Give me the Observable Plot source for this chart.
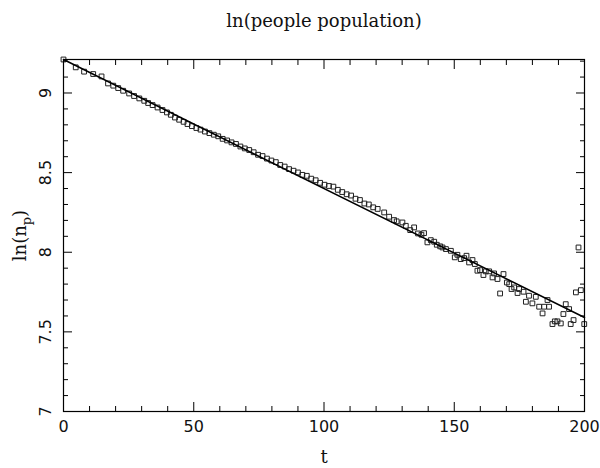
<!DOCTYPE html>
<html><head><meta charset="utf-8">
<script src="https://cdn.jsdelivr.net/npm/d3@7"></script>
<script src="https://cdn.jsdelivr.net/npm/@observablehq/plot@0.6"></script>
<style>body{margin:0;background:#fff}</style>
</head><body><div id="chart"></div>
<script>
const title = "ln(people population)";
const xLabel = "t";
const yLabelMain = "ln(n";
const yLabelSub = "p";
const yLabelEnd = ")";

const t = [0, 4.7, 7.9, 11.4, 14.6, 17.1, 19.1, 21.0, 22.9, 25.2, 27.1, 29.1, 31.0, 32.5, 34.2, 36.1, 38.0, 39.7, 41.2, 42.8, 44.4, 46.1, 47.6,
  49.3, 51.0, 52.6, 54.3, 56.0, 57.7, 59.4, 61.1, 62.8, 64.5, 66.2, 67.9, 69.6, 71.3, 73.0, 74.7, 76.4, 78.1, 79.8, 81.5, 83.2, 84.9, 86.6, 88.3, 90.0, 91.7, 93.4, 95.1, 96.8, 98.5, 100.2, 101.9, 103.6, 105.3, 107.0, 108.7, 110.4, 112.1, 113.8, 115.5, 117.2, 118.9, 120.6,
  123.1, 125.0, 126.9, 127.9, 130.1, 131.4, 133.1, 134.6, 136.1, 137.4, 138.4, 139.7, 141.0, 142.3, 143.3, 144.6, 145.5, 146.8, 148.7, 150.2, 151.2, 152.5, 153.8, 154.7, 155.7, 157.0, 157.9, 158.9, 159.9, 161.2, 162.1, 163.4, 164.7, 165.3, 166.6, 167.6, 168.9, 170.2, 171.1, 172.0, 173.0, 174.3, 174.9, 176.6, 177.5, 178.7, 180.0, 181.3, 182.6, 183.9, 184.5, 185.8, 186.4, 187.7, 188.6, 189.6, 190.9, 191.9, 192.8, 194.1, 194.7, 195.8, 196.7, 197.7, 198.6, 199.9];

const lnN = [9.2103, 9.161, 9.134, 9.119, 9.104, 9.060, 9.046, 9.031, 9.014, 8.997, 8.981, 8.966, 8.951, 8.937, 8.924, 8.909, 8.893, 8.878, 8.863, 8.846, 8.832, 8.819, 8.805,
  8.792, 8.780, 8.770, 8.758, 8.748, 8.738, 8.728, 8.712, 8.702, 8.690, 8.680, 8.664, 8.652, 8.642, 8.628, 8.612, 8.604, 8.588, 8.576, 8.566, 8.548, 8.538, 8.522, 8.512, 8.501, 8.486, 8.480, 8.462, 8.452, 8.436, 8.424, 8.416, 8.412, 8.392, 8.378, 8.364, 8.356, 8.336, 8.328, 8.306, 8.300, 8.282, 8.272,
  8.250, 8.223, 8.202, 8.194, 8.187, 8.166, 8.139, 8.156, 8.118, 8.110, 8.120, 8.062, 8.076, 8.066, 8.047, 8.037, 8.030, 8.020, 8.009, 7.968, 7.984, 7.957, 7.963, 7.978, 7.936, 7.951, 7.926, 7.884, 7.888, 7.857, 7.880, 7.880, 7.842, 7.867, 7.832, 7.741, 7.863, 7.810, 7.800, 7.769, 7.779, 7.744, 7.769, 7.752, 7.689, 7.727, 7.679, 7.720, 7.658, 7.616, 7.658, 7.700, 7.658, 7.549, 7.566, 7.566, 7.553, 7.612, 7.674, 7.643, 7.549, 7.574, 7.748, 8.030, 7.762, 7.549];

const fitT = [0, 200];
const fitLnN = [9.2103, 7.59];

const xMajor = [0, 50, 100, 150, 200];
const xMinor = [10, 20, 30, 40, 60, 70, 80, 90, 110, 120, 130, 140, 160, 170, 180, 190];
const yMajor = [7, 7.5, 8, 8.5, 9];
const yMinor = [7.1, 7.2, 7.3, 7.4, 7.6, 7.7, 7.8, 7.9, 8.1, 8.2, 8.3, 8.4, 8.6, 8.7, 8.8, 8.9, 9.1, 9.2];

const points = t.map((d, i) => ({t: d, v: lnN[i]}));
const fit = fitT.map((d, i) => ({t: d, v: fitLnN[i]}));

const tk = {stroke: "#000", strokeWidth: 1, fill: "none", label: null};
const numFont = {fontFamily: "DejaVu Sans", fontSize: 16, fill: "#111"};
const serif = {fontFamily: "DejaVu Serif", fontSize: 18, fill: "#111"};

const chart = Plot.plot({
  width: 600, height: 468,
  marginLeft: 63, marginRight: 16, marginTop: 59, marginBottom: 57,
  x: {domain: [0, 200]},
  y: {domain: [7, 9.2103]},
  style: {background: "#fff"},
  marks: [
    Plot.dot(points, {x: "t", y: "v", symbol: "square", r: 2.7, stroke: "#222", strokeWidth: 1, fill: "none"}),
    Plot.line(fit, {x: "t", y: "v", stroke: "#000", strokeWidth: 1.5}),
    Plot.axisX({...tk, anchor: "bottom", ticks: xMajor, tickSize: 9, dy: -9}),
    Plot.axisX({...tk, anchor: "bottom", ticks: xMinor, tickSize: 5, dy: -5}),
    Plot.axisX({...tk, anchor: "top", ticks: xMajor, tickSize: 9, dy: 9}),
    Plot.axisX({...tk, anchor: "top", ticks: xMinor, tickSize: 5, dy: 5}),
    Plot.axisY({...tk, anchor: "left", ticks: yMajor, tickSize: 9, dx: 9}),
    Plot.axisY({...tk, anchor: "left", ticks: yMinor, tickSize: 5, dx: 5}),
    Plot.axisY({...tk, anchor: "right", ticks: yMajor, tickSize: 9, dx: -9}),
    Plot.axisY({...tk, anchor: "right", ticks: yMinor, tickSize: 5, dx: -5}),
    Plot.frame({stroke: "#000", strokeWidth: 1.2}),
    Plot.text(xMajor, {x: d => d, frameAnchor: "bottom", dy: 15, text: d => String(d), lineAnchor: "middle", ...numFont}),
    Plot.text(yMajor, {y: d => d, frameAnchor: "left", dx: -18, rotate: -90, text: d => String(d), textAnchor: "middle", lineAnchor: "middle", ...numFont}),
    Plot.text([title], {frameAnchor: "top", dy: -38, text: d => d, lineAnchor: "middle", ...serif}),
    Plot.text([xLabel], {frameAnchor: "bottom", dy: 46, text: d => d, lineAnchor: "middle", ...serif}),
    Plot.text([yLabelMain + yLabelSub + yLabelEnd], {frameAnchor: "left", dx: -43, rotate: -90, text: d => d, textAnchor: "middle", lineAnchor: "middle", ...serif})
  ]
});

// subscript for the y label
d3.select(chart).selectAll("text").each(function () {
  if (this.textContent === yLabelMain + yLabelSub + yLabelEnd) {
    const el = d3.select(this);
    el.text(yLabelMain);
    el.append("tspan").attr("font-size", 13).attr("dy", 5).text(yLabelSub);
    el.append("tspan").attr("dy", -5).text(yLabelEnd);
  }
});

document.getElementById("chart").append(chart);
</script>
</body></html>
